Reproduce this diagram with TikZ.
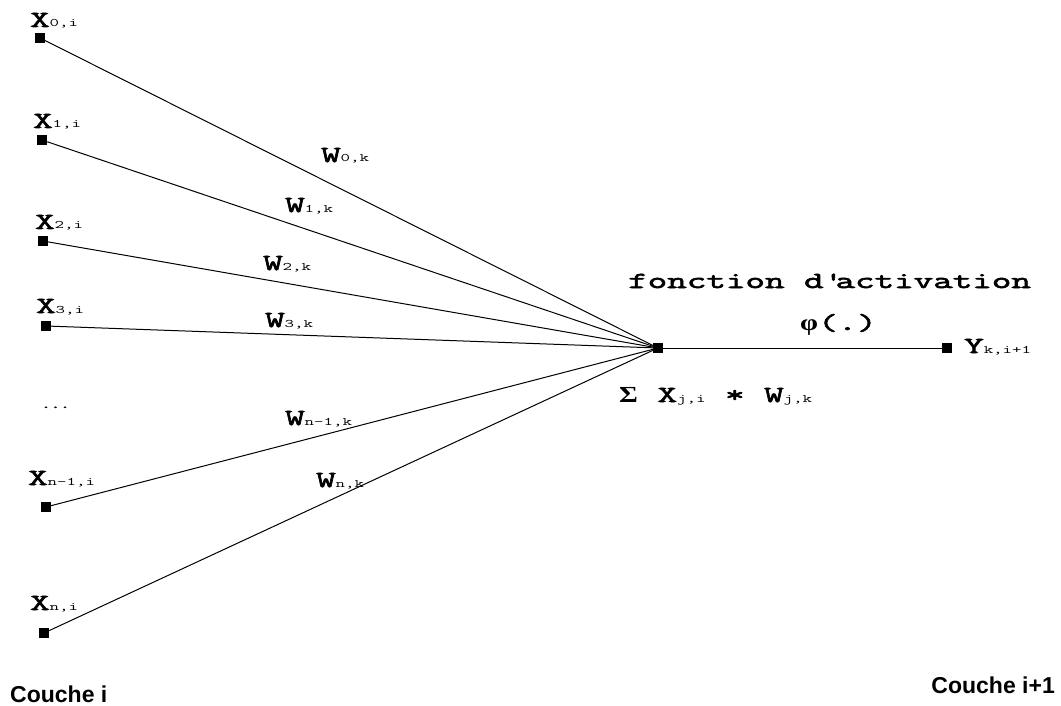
\documentclass[tikz,border=0pt]{standalone}
\usepackage{fontspec}
\newfontfamily\cour[FakeStretch=1.6]{Latin Modern Mono}
\newfontfamily\courgras[FakeStretch=1.65, FakeBold=2.8]{Latin Modern Mono}
\newfontfamily\grec[FakeStretch=1.25]{Liberation Serif}
\newfontfamily\arial{Liberation Sans}
\newcommand{\grand}[1]{{\fontsize{23}{23}\selectfont\courgras #1}}
\newcommand{\petit}[1]{{\fontsize{11.5}{11.5}\selectfont\cour #1}}
\newcommand{\lettregrec}[1]{{\fontsize{23}{23}\selectfont\grec\bfseries #1}}

\begin{document}
\begin{tikzpicture}[x=1pt, y=-1pt,
    neurone/.style={fill=black, minimum size=10pt, inner sep=0pt},
    lbl/.style={anchor=base west, inner sep=0pt},
    couche/.style={inner sep=0pt, font=\fontsize{23}{23}\selectfont\arial\bfseries},
    lien/.style={line width=1pt}]

  \useasboundingbox (0,0) rectangle (1061,706);

  % couche i
  \node[neurone] (x0) at (40,38) {};
  \node[neurone] (x1) at (42,140) {};
  \node[neurone] (x2) at (43,241) {};
  \node[neurone] (x3) at (46,326) {};
  \node[neurone] (xn1) at (46,507) {};
  \node[neurone] (xn) at (44,633) {};

  \node[lbl] (lx0) at (30,27) {\grand{X}\petit{0,i}};
  \node[lbl] (lx1) at (33,128) {\grand{X}\petit{1,i}};
  \node[lbl] (lx2) at (35,229) {\grand{X}\petit{2,i}};
  \node[lbl] (lx3) at (36,313) {\grand{X}\petit{3,i}};
  \node[lbl] (dots) at (41,408) {\fontsize{11}{11}\selectfont\courgras ...};
  \node[lbl] (lxn1) at (28,485) {\grand{X}\petit{n-1,i}};
  \node[lbl] (lxn) at (30,610) {\grand{X}\petit{n,i}};

  % neurone k et sortie
  \node[neurone] (s) at (658,348) {};
  \node[neurone] (y) at (947,348) {};

  \node[lbl] (act) at (628,288) {\grand{fonction d\textquotesingle activation}};
  \node[lbl] (phi) at (800,330) {\lettregrec{φ}\grand{(.)}};
  \node[lbl] (somme) at (619,402) {\lettregrec{Σ}\grand{ X}\petit{j,i}\grand{ * W}\petit{j,k}};
  \node[lbl] (ly) at (964,353) {\grand{Y}\petit{k,i+1}};

  % poids
  \node[lbl] (w0) at (321,162) {\grand{W}\petit{0,k}};
  \node[lbl] (w1) at (285,212) {\grand{W}\petit{1,k}};
  \node[lbl] (w2) at (263,270) {\grand{W}\petit{2,k}};
  \node[lbl] (w3) at (265,327) {\grand{W}\petit{3,k}};
  \node[lbl] (wn1) at (285,425) {\grand{W}\petit{n-1,k}};
  \node[lbl] (wn) at (316,487) {\grand{W}\petit{n,k}};

  \draw[lien] (x0) -- (s);
  \draw[lien] (x1) -- (s);
  \draw[lien] (x2) -- (s);
  \draw[lien] (x3) -- (s);
  \draw[lien] (xn1) -- (s);
  \draw[lien] (xn) -- (s);
  \draw[lien] (s) -- (y);

  \node[couche, anchor=base west] (ci) at (10,702) {Couche i};
  \node[couche, anchor=base east] (ci1) at (1055,693) {Couche i+1};

\end{tikzpicture}
\end{document}
